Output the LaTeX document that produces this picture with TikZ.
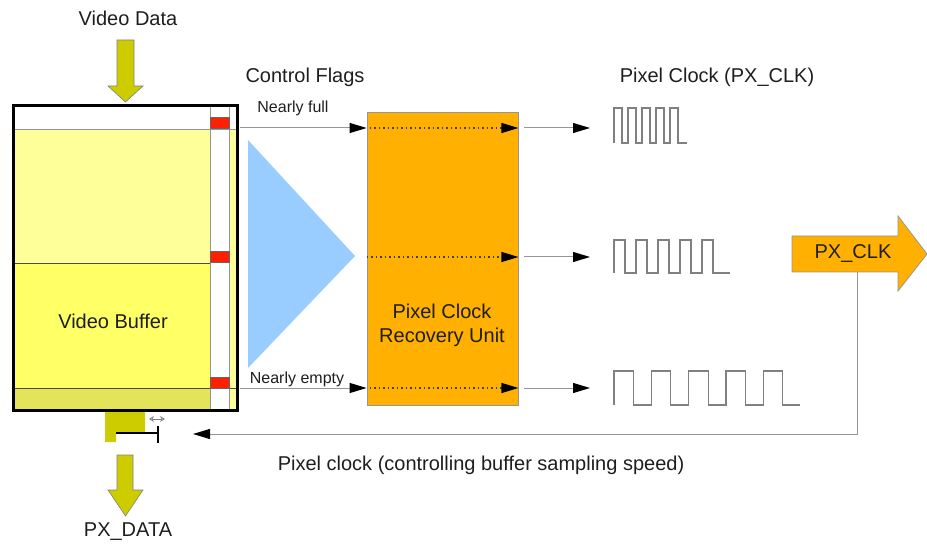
\documentclass[tikz,border=0pt]{standalone}
\usepackage{fontspec}
\setmainfont{Liberation Sans}
\usetikzlibrary{arrows.meta,positioning,calc}
\definecolor{unitorange}{RGB}{255,176,0}
\definecolor{paleyellow}{RGB}{255,255,153}
\definecolor{brightyellow}{RGB}{255,255,102}
\definecolor{darkyellow}{RGB}{228,228,90}
\definecolor{olivearrow}{RGB}{204,204,0}
\definecolor{flagred}{RGB}{255,32,0}
\definecolor{triblue}{RGB}{153,204,255}
\definecolor{wiregray}{RGB}{150,150,150}
\definecolor{textgray}{RGB}{30,30,30}
\tikzset{
  biglabel/.style={font=\fontsize{20}{24}\selectfont, text=textgray, inner sep=0pt},
  smalllabel/.style={font=\fontsize{16}{19}\selectfont, text=textgray, inner sep=0pt},
  wire/.style={draw=wiregray, line width=1pt, -{Triangle[length=17pt,width=10pt,color=black]}},
  dotwire/.style={draw=black!75, dash pattern=on 1.5pt off 3pt, line width=1.2pt, -{Triangle[length=17pt,width=10pt,color=black]}},
  wave/.style={draw=gray, line width=1.2pt},
  fatarrow/.style={fill=olivearrow, draw=gray, line width=0.6pt},
  flag/.style={fill=flagred, draw=black!60, line width=0.4pt, minimum width=19, minimum height=11, inner sep=0pt},
}
% x0, ytop, ybot, period, high, pulses, xend
\newcommand{\clockwave}[7]{%
  \draw[wave] (#1,#3) \foreach \k in {1,...,#6} {
    -- ({#1+(\k-1)*#4},#3) -- ({#1+(\k-1)*#4},#2)
    -- ({#1+(\k-1)*#4+#5},#2) -- ({#1+(\k-1)*#4+#5},#3) } -- (#7,#3);
}

\begin{document}
\begin{tikzpicture}[x=1pt, y=-1pt]
\useasboundingbox (0,0) rectangle (927,548);

% video buffer
\fill[white] (12,104) rectangle (239,412);
\fill[paleyellow] (12,129) rectangle (210,263);
\fill[brightyellow] (12,263) rectangle (210,388);
\fill[darkyellow] (12,388) rectangle (210,412);
\fill[paleyellow] (229,129) rectangle (239,412);
\draw[wiregray, line width=0.8pt] (12,129) -- (239,129) (210,104) -- (210,412) (229,104) -- (229,412);
\draw[black!70, line width=0.8pt] (12,263) -- (210,263) (12,388) -- (239,388);
\node[flag] (flagfull) at (219.5,122.5) {};
\node[flag] (flagmid) at (219.5,256.5) {};
\node[flag] (flagempty) at (219.5,382.5) {};
\node[draw=black, line width=3pt, minimum width=224, minimum height=305, inner sep=0pt] (buffer) at (125.5,258) {};
\node[biglabel] (buffertext) at (113,321) {Video Buffer};

% input and output
\node[biglabel] (videodata) at (128,18) {Video Data};
\filldraw[fatarrow] (117,40) -- (134,40) -- (134,86) -- (143,86) -- (125.5,102) -- (108,86) -- (117,86) -- cycle;
\fill[olivearrow] (105,412) -- (145,412) -- (145,432) -- (116,432) -- (116,442) -- (105,442) -- cycle;
\draw[black, line width=1.2pt] (116,433) -- (158,433) (158,426) -- (158,443);
\draw[gray, line width=0.7pt, {Stealth[open,length=5pt,width=6pt]}-{Stealth[open,length=5pt,width=6pt]}] (149,419) -- (165,419);
\filldraw[fatarrow] (117,455) -- (133,455) -- (133,490) -- (143,490) -- (125.5,516) -- (108,490) -- (117,490) -- cycle;
\node[biglabel] (pxdata) at (128,532) {PX\_DATA};

% control flags
\fill[triblue] (248,140) -- (355,256) -- (248,368) -- cycle;
\coordinate (tritip) at (355,257);
\coordinate (fullout) at (240,128);
\coordinate (emptyout) at (240,388);
\node[biglabel] (flagslabel) at (305,77) {Control Flags};
\node[smalllabel] (fulllabel) at (293,108) {Nearly full};
\node[smalllabel] (emptylabel) at (297,379) {Nearly empty};

% recovery unit
\node[fill=unitorange, draw=wiregray, line width=0.8pt, minimum width=151, minimum height=293, inner sep=0pt] (unit) at (442.5,258.5) {};
\node[biglabel, align=center] (unittext) at (442,325) {Pixel Clock\\Recovery Unit};
\draw[wire] (fullout) -- (fullout -| unit.west);
\draw[wire] (emptyout) -- (emptyout -| unit.west);
\draw[dotwire] ([xshift=3pt]fullout -| unit.west) -- (fullout -| unit.east);
\draw[dotwire] (tritip -| unit.west) -- (tritip -| unit.east);
\draw[dotwire] ([xshift=3pt]emptyout -| unit.west) -- (emptyout -| unit.east);

% clocks
\node[biglabel] (clklabel) at (717,77) {Pixel Clock (PX\_CLK)};
\coordinate (fastclk) at (590,128);
\coordinate (midclk) at (590,257);
\coordinate (slowclk) at (590,388);
\draw[wire] ([xshift=6pt]fullout -| unit.east) -- (fastclk);
\draw[wire] ([xshift=6pt]tritip -| unit.east) -- (midclk);
\draw[wire] ([xshift=6pt]emptyout -| unit.east) -- (slowclk);
\clockwave{614}{108}{143}{14}{8}{5}{687}
\clockwave{614}{240}{273}{22}{11}{5}{730}
\clockwave{614}{371}{405}{37.3}{19.5}{5}{800}

% px_clk output and feedback
\filldraw[fill=unitorange, draw=wiregray, line width=0.8pt] (792,236) -- (898,236) -- (898,216) -- (927,254) -- (898,291) -- (898,272) -- (792,272) -- cycle;
\node[biglabel] (pxclk) at (853,254) {PX\_CLK};
\coordinate (clkfoot) at (857,272);
\coordinate (fbend) at (193,434);
\draw[wire] (clkfoot) |- (fbend);
\node[biglabel] (fblabel) at (481,465) {Pixel clock (controlling buffer sampling speed)};
\end{tikzpicture}
\end{document}
